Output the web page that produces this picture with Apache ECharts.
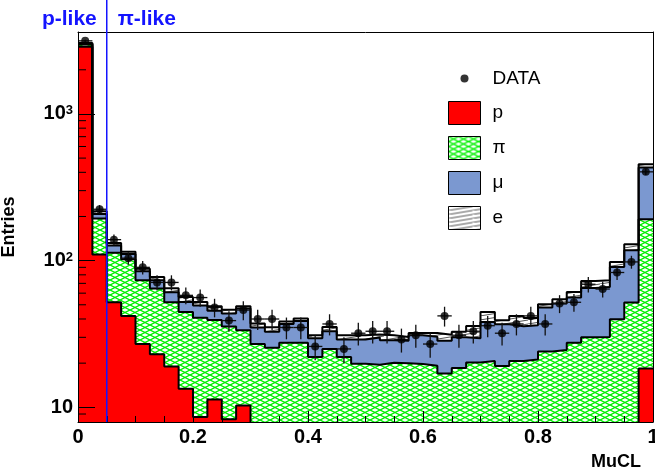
<!DOCTYPE html>
<html>
<head>
<meta charset="utf-8">
<script src="https://cdn.jsdelivr.net/npm/echarts@6/dist/echarts.min.js"></script>
<style>
  html, body { margin: 0; padding: 0; background: #fff; }
  #chart { width: 655px; height: 476px; }
</style>
</head>
<body>
<div id="chart"></div>
<script>
// MuCL, 40 bins between 0 and 1
const binWidth = 0.025;
const nBins = 40;

const dataCounts = [3150, 224, 139, 104, 90, 71, 71, 58, 56, 48,
                    39, 46, 40, 40, 35, 35, 26, 37, 25, 32,
                    33, 33, 29, 31, 27, 42, 31, 33, 36, 32,
                    37, 42, 37, 51, 52, 69, 64, 83, 98, 403];
const pCounts = [2870, 110, 52, 42, 27, 23, 19, 13.4, 8.6, 11.3,
                 8.3, 10.3, 0, 0, 0, 0, 0, 0, 0, 0,
                 0, 0, 0, 0, 0, 0, 0, 0, 0, 0,
                 0, 0, 0, 0, 0, 0, 0, 0, 0, 18.4];
const piCounts = [100, 84, 61, 60, 46.5, 41.5, 33, 31.3, 32.2, 28,
                  27.2, 23.2, 27, 25.5, 27.5, 27.5, 22, 25, 22, 19.8,
                  19.5, 20.1, 20, 19.7, 19.2, 17, 18.5, 20.2, 20.7, 19.1,
                  20.7, 21.2, 24, 24.6, 27.6, 30, 30.2, 39.8, 51.8, 173.2];
const muCounts = [40, 14, 14, 9, 11.2, 9, 8.9, 7.6, 8.7, 6.3,
                  8.1, 13.6, 8, 7.2, 9.5, 11.3, 7.6, 8, 7, 9.2,
                  10.4, 8.5, 8.4, 11.3, 11.1, 11.4, 11.5, 9.4, 17.5, 17.7,
                  15, 15.1, 24, 26.4, 28.4, 35, 36, 50.8, 66, 239.4];
const eCounts = [30, 9, 5, 4, 3.3, 3.9, 4, 4.3, 2.7, 3.2,
                 2.6, 1.7, 2.2, 2.5, 1.5, 1.5, 1.4, 2.3, 2, 2,
                 1.4, 2.4, 1.8, 1.1, 1.8, 2.8, 2.7, 6.2, 6.5, 2.4,
                 6.3, 4.4, 2.5, 3.5, 5.2, 7.6, 7.3, 7.4, 11.7, 23];

const yMin = 7.94;
const yMax = 3620;
const yMinorTicks = [9, 20, 30, 40, 50, 60, 70, 80, 90,
                     200, 300, 400, 500, 600, 700, 800, 900, 2000, 3000];
const cutValue = 0.05;

const FONT = 'Liberation Sans';

// hatch fills like ROOT fill styles
function hatch(w, h, color, lw, draw) {
    const c = document.createElement('canvas');
    c.width = w; c.height = h;
    const ctx = c.getContext('2d');
    ctx.fillStyle = '#fff';
    ctx.fillRect(0, 0, w, h);
    ctx.strokeStyle = color;
    ctx.lineWidth = lw;
    ctx.beginPath();
    draw(ctx, w, h);
    ctx.stroke();
    return { image: c, repeat: 'repeat' };
}
const piFill = hatch(10, 5, '#00f000', 1.3, (ctx, w, h) => {
    ctx.moveTo(0, 0); ctx.lineTo(w, h);
    ctx.moveTo(0, h); ctx.lineTo(w, 0);
});
const eFill = hatch(24, 4, '#555', 1, (ctx, w, h) => {
    ctx.moveTo(0, h); ctx.lineTo(w, 0);
    ctx.moveTo(-w, h); ctx.lineTo(0, 0);
    ctx.moveTo(0, 2 * h); ctx.lineTo(w, h);
});
const pColor = '#ff0000';
const muColor = '#7b98d0';

// stacked tops (log axis cannot show 0, empty bins go under the axis)
const pTop = pCounts.map(v => v > 0 ? v : 1e-3);
const piTop = pCounts.map((v, i) => v + piCounts[i]);
const muTop = piTop.map((v, i) => v + muCounts[i]);
const eTop = muTop.map((v, i) => v + eCounts[i]);

const binEdges = [];
for (let i = 0; i <= nBins; i++) binEdges.push(+(i * binWidth).toFixed(4));
const binCenters = binEdges.slice(0, nBins).map(x => x + binWidth / 2);

function histSeries(name, tops, fill) {
    return {
        name: name,
        type: 'line',
        step: 'end',
        symbol: 'none',
        silent: true,
        data: binEdges.map((x, i) => [x, tops[Math.min(i, nBins - 1)]]),
        itemStyle: { color: fill },
        lineStyle: { color: '#000', width: 2 },
        areaStyle: { color: fill, opacity: 1, origin: 'start' },
        emphasis: { disabled: true },
        z: 2
    };
}

const chart = echarts.init(document.getElementById('chart'));

const option = {
    animation: false,
    backgroundColor: '#fff',
    grid: { left: 78, right: 2, top: 32, bottom: 54, outerBoundsMode: 'none' },
    legend: {
        orient: 'vertical',
        left: 443,
        top: 62,
        itemWidth: 32,
        itemHeight: 23,
        itemGap: 11,
        selectedMode: false,
        textStyle: { fontFamily: FONT, fontSize: 19, color: '#000', padding: [0, 0, 0, 7] },
        data: [
            { name: 'DATA', icon: 'path://M0,0M32,23M12,11.5a4,4 0 1,0 8,0a4,4 0 1,0 -8,0z',
              itemStyle: { color: '#000', borderWidth: 0 } },
            { name: 'p', icon: 'rect', itemStyle: { color: pColor, borderColor: '#000', borderWidth: 1 } },
            { name: 'π', icon: 'rect', itemStyle: { color: piFill, borderColor: '#000', borderWidth: 1 } },
            { name: 'μ', icon: 'rect', itemStyle: { color: muColor, borderColor: '#000', borderWidth: 1 } },
            { name: 'e', icon: 'rect', itemStyle: { color: eFill, borderColor: '#000', borderWidth: 1 } }
        ]
    },
    xAxis: [
        {
            type: 'value', min: 0, max: 1, interval: 0.2, z: 10,
            axisLine: { onZero: false, lineStyle: { color: '#000', width: 1 } },
            axisTick: { inside: true, length: 11, lineStyle: { color: '#000' } },
            minorTick: { show: true, splitNumber: 4, length: 6, lineStyle: { color: '#000' } },
            splitLine: { show: false },
            axisLabel: { margin: 5, color: '#000', fontFamily: FONT, fontWeight: 'bold', fontSize: 20 },
            name: 'MuCL',
            nameLocation: 'end',
            nameGap: -12,
            nameTextStyle: { fontFamily: FONT, fontWeight: 'bold', fontSize: 18, color: '#000',
                             align: 'right', verticalAlign: 'top', padding: [31, 0, 0, 0] }
        },
        {
            type: 'value', min: 0, max: 1, position: 'top', z: 10,
            axisLine: { show: true, onZero: false, lineStyle: { color: '#000', width: 1 } },
            axisTick: { show: false }, axisLabel: { show: false }, splitLine: { show: false }
        }
    ],
    yAxis: [
        {
            type: 'log', logBase: 10, min: yMin, max: yMax, z: 10,
            axisLine: { show: true, onZero: false, lineStyle: { color: '#000', width: 1 } },
            axisTick: { show: true, inside: true, length: 17, lineStyle: { color: '#000' } },
            splitLine: { show: false },
            axisLabel: {
                margin: 5,
                showMinLabel: false,
                showMaxLabel: false,
                formatter: function (v) {
                    const n = Math.round(Math.log10(v));
                    return n === 1 ? '{b|10}' : '{b|10}{s|' + n + '}';
                },
                rich: {
                    b: { fontFamily: FONT, fontWeight: 'bold', fontSize: 20, lineHeight: 20,
                         color: '#000', verticalAlign: 'bottom' },
                    s: { fontFamily: FONT, fontWeight: 'bold', fontSize: 13, lineHeight: 13,
                         color: '#000', verticalAlign: 'top', padding: [0, 0, 10, 0] }
                }
            },
            name: 'Entries',
            nameLocation: 'middle',
            nameGap: 60,
            nameTextStyle: { fontFamily: FONT, fontWeight: 'bold', fontSize: 18, color: '#000' }
        },
        {
            type: 'value', min: 0, max: 1, position: 'right', z: 10,
            axisLine: { show: true, onZero: false, lineStyle: { color: '#000', width: 1 } },
            axisTick: { show: false }, axisLabel: { show: false }, splitLine: { show: false }
        }
    ],
    series: [
        histSeries('e', eTop, eFill),
        histSeries('μ', muTop, muColor),
        histSeries('π', piTop, piFill),
        histSeries('p', pTop, pColor),
        {
            // Poisson error bars of the data points
            type: 'custom',
            silent: true,
            z: 4,
            data: binCenters.map((x, i) => [x, dataCounts[i]]),
            renderItem: function (params, api) {
                const x = api.value(0), y = api.value(1), err = Math.sqrt(y);
                const top = api.coord([x, y + err]);
                const bot = api.coord([x, y - err]);
                const l = api.coord([x - binWidth / 2, y]);
                const r = api.coord([x + binWidth / 2, y]);
                const st = { stroke: '#111', lineWidth: 1.3 };
                return {
                    type: 'group',
                    children: [
                        { type: 'line', shape: { x1: top[0], y1: top[1], x2: bot[0], y2: bot[1] }, style: st },
                        { type: 'line', shape: { x1: l[0], y1: l[1], x2: r[0], y2: r[1] }, style: st }
                    ]
                };
            }
        },
        {
            name: 'DATA',
            type: 'scatter',
            symbol: 'circle',
            symbolSize: 8,
            itemStyle: { color: '#000' },
            silent: true,
            z: 5,
            data: binCenters.map((x, i) => [x, dataCounts[i]])
        },
        {
            // minor log ticks on the y axis
            type: 'custom',
            silent: true,
            z: 10,
            data: yMinorTicks.map(v => [0, v]),
            renderItem: function (params, api) {
                const pt = api.coord([0, api.value(1)]);
                return { type: 'line', shape: { x1: pt[0], y1: pt[1], x2: pt[0] + 8, y2: pt[1] },
                         style: { stroke: '#000', lineWidth: 1 } };
            }
        },
        {
            // p-like / pi-like cut
            type: 'custom',
            silent: true,
            z: 12,
            clip: false,
            data: [[cutValue, yMin]],
            renderItem: function (params, api) {
                const b = api.coord([api.value(0), api.value(1)]);
                const ts = { fontFamily: FONT, fontWeight: 'bold', fontSize: 21, fill: '#1414ff',
                             verticalAlign: 'middle' };
                return {
                    type: 'group',
                    children: [
                        { type: 'line', shape: { x1: b[0], y1: b[1], x2: b[0], y2: 0 },
                          style: { stroke: '#1414ff', lineWidth: 1.5 } },
                        { type: 'text', x: b[0] - 10, y: 19, style: Object.assign({ text: 'p-like', align: 'right' }, ts) },
                        { type: 'text', x: b[0] + 11, y: 19, style: Object.assign({ text: 'π-like', align: 'left' }, ts) }
                    ]
                };
            }
        }
    ]
};

chart.setOption(option);
</script>
</body>
</html>
